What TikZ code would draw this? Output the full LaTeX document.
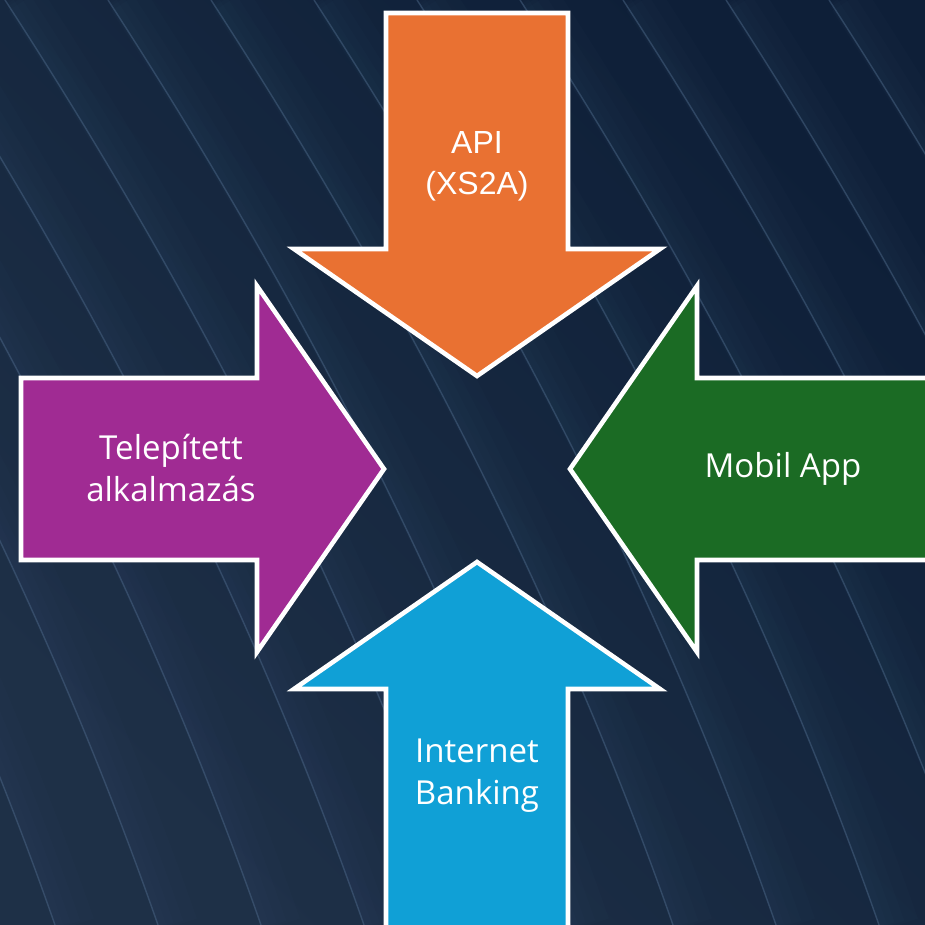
\documentclass[tikz,border=0pt]{standalone}
\usepackage{fontspec}
\usepackage{tikz}
\usetikzlibrary{positioning,calc}
\newfontfamily\aptos{Open Sans}
\newfontfamily\arial{Liberation Sans}
\definecolor{navyUR}{HTML}{0E1F38}
\definecolor{navyLL}{HTML}{1E3047}
\definecolor{streak}{HTML}{4A6585}
\definecolor{apiorange}{HTML}{E97132}
\definecolor{apppurple}{HTML}{A02B93}
\definecolor{mobilgreen}{HTML}{1B6B24}
\definecolor{ibblue}{HTML}{10A0D6}
\tikzset{
  arrowshape/.style={draw=white, line width=1.3pt, line join=miter},
  arrowtext/.style={text=white, align=center, font=\aptos\fontsize{9.4}{11.9}\selectfont},
  fold/.style={streak, line width=#1, opacity=0.035, xshift=#1/2}
}
\newcommand{\foldpath}[1]{(0.05+1.03*#1,0) .. controls (2.054+1.03*#1,-3.083) and (3.594+1.03*#1,-6.167) .. (4.67+1.03*#1,-9.25)}

\begin{document}
\begin{tikzpicture}[scale=1]
      \useasboundingbox (0,0) rectangle (9.25,-9.25);
      \clip (0,0) rectangle (9.25,-9.25);
      % background
      \shade[top color=navyUR, bottom color=navyLL, shading angle=-45] (0,0) rectangle (9.25,-9.25);
      \foreach \s in {-5,...,9}{
        \foreach \w in {0.08cm,0.16cm,0.26cm,0.4cm}{
          \draw[fold=\w] \foldpath{\s};
        }
        \draw[streak, line width=0.4pt, opacity=0.5] \foldpath{\s};
      }
      % arrows
      \fill[apiorange, arrowshape] (3.86,-0.13) -- (5.68,-0.13) -- (5.68,-2.49) -- (6.60,-2.49) -- (4.77,-3.76) -- (2.94,-2.49) -- (3.86,-2.49) -- cycle;
      \fill[apppurple, arrowshape] (0.21,-3.78) -- (2.57,-3.78) -- (2.57,-2.86) -- (3.84,-4.69) -- (2.57,-6.52) -- (2.57,-5.60) -- (0.21,-5.60) -- cycle;
      \fill[mobilgreen, arrowshape] (9.60,-3.78) -- (6.97,-3.78) -- (6.97,-2.86) -- (5.70,-4.69) -- (6.97,-6.52) -- (6.97,-5.60) -- (9.60,-5.60) -- cycle;
      \fill[ibblue, arrowshape] (3.86,-9.60) -- (3.86,-6.89) -- (2.94,-6.89) -- (4.77,-5.62) -- (6.60,-6.89) -- (5.68,-6.89) -- (5.68,-9.60) -- cycle;
      % labels
      \node[arrowtext, font=\arial\fontsize{9.1}{11.7}\selectfont] (api) at (4.77,-1.66) {API\\(XS2A)};
      \node[arrowtext] (telepitett) at (1.71,-4.68) {Telepített\\alkalmazás};
      \node[arrowtext] (mobil) at (7.83,-4.69) {Mobil App};
      \node[arrowtext] (internet) at (4.77,-7.76) {Internet\\Banking};
    \end{tikzpicture}
\end{document}
